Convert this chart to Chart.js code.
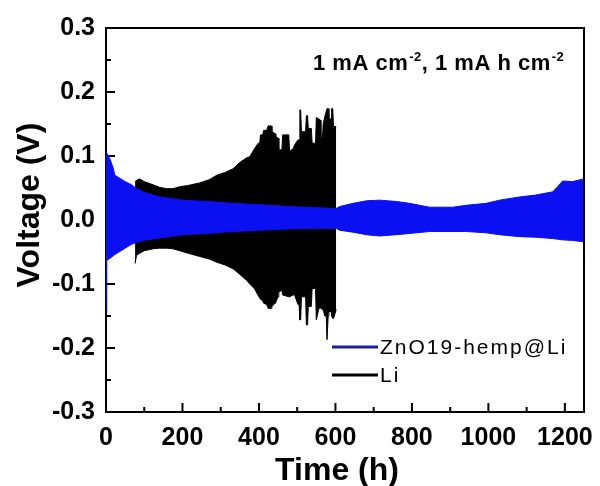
<!DOCTYPE html>
<html>
<head>
<meta charset="utf-8">
<script src="https://cdn.jsdelivr.net/npm/chart.js@4.4.1/dist/chart.umd.min.js"></script>
<style>
  html, body { margin: 0; padding: 0; background: #fff; }
  #wrap { width: 600px; height: 486px; }
</style>
</head>
<body>
<div id="wrap"><canvas id="voltChart" width="600" height="486"></canvas></div>
<script>
// === Valores (tempo em h, tensão em V) ===
const seriesNames = ['ZnO19-hemp@Li', 'Li'];

// ZnO19-hemp@Li : borda superior / inferior da faixa de ciclagem
const znTime  = [0, 2, 10, 19, 23, 37, 50, 67, 80, 106, 141, 200, 263, 332, 400, 480, 559, 602, 611, 646, 681, 715, 759, 794, 846, 907, 942, 994, 1029, 1081, 1124, 1168, 1181, 1194, 1220, 1248];
const znUpper = [0.105, 0.104, 0.096, 0.081, 0.07, 0.065, 0.06, 0.055, 0.049, 0.042, 0.036, 0.031, 0.029, 0.026, 0.024, 0.021, 0.019, 0.018, 0.021, 0.026, 0.030, 0.031, 0.029, 0.026, 0.020, 0.020, 0.023, 0.026, 0.031, 0.036, 0.039, 0.044, 0.052, 0.061, 0.060, 0.064];
const znLower = [-0.145, -0.063, -0.06, -0.056, -0.054, -0.049, -0.044, -0.038, -0.035, -0.031, -0.028, -0.023, -0.021, -0.018, -0.016, -0.014, -0.013, -0.013, -0.016, -0.019, -0.023, -0.025, -0.023, -0.021, -0.018, -0.018, -0.018, -0.020, -0.023, -0.026, -0.027, -0.029, -0.030, -0.031, -0.032, -0.034];

// Li puro : borda superior / inferior, termina perto de 600 h
const liTime  = [76, 80, 88, 100, 123, 140, 158, 175, 193, 215, 245, 270, 290, 310, 332, 350, 367, 376, 389, 398, 402, 404, 410, 412, 420, 424, 432, 434, 442, 444, 450, 452, 460, 462, 478, 480, 490, 493, 502, 505, 507, 509, 511, 522, 524, 527, 529, 537, 539, 548, 550, 556, 561, 562, 566, 568, 572, 576, 578, 581, 583, 589, 590, 593, 595, 602];
const liUpper = [0.06, 0.062, 0.064, 0.06, 0.055, 0.051, 0.049, 0.049, 0.052, 0.054, 0.058, 0.063, 0.07, 0.074, 0.08, 0.09, 0.097, 0.099, 0.112, 0.12, 0.12, 0.133, 0.133, 0.14, 0.14, 0.147, 0.147, 0.138, 0.135, 0.13, 0.128, 0.109, 0.11, 0.133, 0.133, 0.107, 0.112, 0.117, 0.125, 0.125, 0.172, 0.172, 0.138, 0.138, 0.163, 0.163, 0.143, 0.143, 0.12, 0.12, 0.16, 0.158, 0.156, 0.128, 0.128, 0.15, 0.161, 0.17, 0.174, 0.174, 0.158, 0.158, 0.174, 0.174, 0.146, 0.146];
const liLower = [-0.068, -0.055, -0.052, -0.048, -0.045, -0.044, -0.044, -0.045, -0.048, -0.052, -0.057, -0.061, -0.066, -0.07, -0.076, -0.085, -0.094, -0.1, -0.108, -0.118, -0.122, -0.124, -0.126, -0.13, -0.132, -0.138, -0.138, -0.135, -0.13, -0.128, -0.12, -0.112, -0.11, -0.117, -0.12, -0.12, -0.117, -0.117, -0.132, -0.132, -0.156, -0.156, -0.12, -0.12, -0.164, -0.164, -0.135, -0.135, -0.107, -0.107, -0.156, -0.14, -0.135, -0.138, -0.14, -0.14, -0.15, -0.15, -0.187, -0.15, -0.143, -0.143, -0.15, -0.154, -0.154, -0.14];

// === Eixos ===
const xTicks = [0, 200, 400, 600, 800, 1000, 1200];
const xMinorTicks = [100, 300, 500, 700, 900, 1100];
const yTicks = [-0.3, -0.2, -0.1, 0, 0.1, 0.2, 0.3];
const yMinorTicks = [-0.25, -0.15, -0.05, 0.05, 0.15, 0.25];
const xTitle = 'Time (h)';
const yTitle = 'Voltage (V)';
const noteParts = ['1 mA cm', '-2', ', 1 mA h cm', '-2'];

const BLUE = '#0a10f2';
const FONT = '"Liberation Sans", Arial, Helvetica, sans-serif';

const toPoints = (t, v) => t.map((x, i) => ({ x, y: v[i] }));

// === Moldura e ticks internos (por baixo das faixas) ===
const frame = {
  id: 'frame',
  beforeDatasetsDraw(chart) {
    const { ctx, chartArea: a, scales: { x, y } } = chart;
    ctx.save();
    ctx.strokeStyle = '#000';
    ctx.lineWidth = 2;
    ctx.beginPath();
    yTicks.forEach(v => { const p = y.getPixelForValue(v); ctx.moveTo(a.left, p); ctx.lineTo(a.left + 9, p); });
    yMinorTicks.forEach(v => { const p = y.getPixelForValue(v); ctx.moveTo(a.left, p); ctx.lineTo(a.left + 5, p); });
    xTicks.forEach(v => { const p = x.getPixelForValue(v); ctx.moveTo(p, a.bottom); ctx.lineTo(p, a.bottom - 9); });
    xMinorTicks.forEach(v => { const p = x.getPixelForValue(v); ctx.moveTo(p, a.bottom); ctx.lineTo(p, a.bottom - 5); });
    ctx.stroke();
    ctx.strokeRect(a.left, a.top, a.right - a.left, a.bottom - a.top);
    ctx.restore();
  }
};

// === Títulos, anotação e legenda ===
const decor = {
  id: 'decor',
  afterDraw(chart) {
    const { ctx, chartArea: a } = chart;
    ctx.save();
    ctx.fillStyle = '#000';

    ctx.font = `bold 32px ${FONT}`;
    ctx.textAlign = 'center';
    ctx.textBaseline = 'alphabetic';
    ctx.fillText(xTitle, (a.left + a.right) / 2 - 8, 480);
    ctx.translate(39, 205);
    ctx.rotate(-Math.PI / 2);
    ctx.fillText(yTitle, 0, 0);
    ctx.setTransform(1, 0, 0, 1, 0, 0);

    // anotação com expoentes
    ctx.textAlign = 'left';
    if ('letterSpacing' in ctx) ctx.letterSpacing = '0.5px';
    let nx = 313;
    noteParts.forEach((s, i) => {
      const sup = i % 2 === 1;
      ctx.font = sup ? `bold 13px ${FONT}` : `bold 22px ${FONT}`;
      ctx.fillText(s, nx, sup ? 61 : 70);
      nx += ctx.measureText(s).width + (sup ? 0 : 1);
    });

    // legenda
    const rows = [{ c: '#1c1ca8', y: 347 }, { c: '#000', y: 375 }];
    ctx.font = `21px ${FONT}`;
    ctx.textBaseline = 'middle';
    if ('letterSpacing' in ctx) ctx.letterSpacing = '2px';
    rows.forEach((r, i) => {
      ctx.strokeStyle = r.c;
      ctx.lineWidth = 3;
      ctx.beginPath();
      ctx.moveTo(332, r.y);
      ctx.lineTo(378, r.y);
      ctx.stroke();
      ctx.fillText(seriesNames[i], 380, r.y + 1);
    });
    ctx.restore();
  }
};

const band = (data, color, fill) => ({
  data,
  borderColor: color,
  backgroundColor: color,
  borderWidth: 1,
  pointRadius: 0,
  tension: 0,
  fill
});

new Chart(document.getElementById('voltChart'), {
  type: 'line',
  data: {
    datasets: [
      band(toPoints(znTime, znUpper), BLUE, '+1'),
      band(toPoints(znTime, znLower), BLUE, false),
      band(toPoints(liTime, liUpper), '#000', '+1'),
      band(toPoints(liTime, liLower), '#000', false)
    ]
  },
  options: {
    responsive: false,
    animation: false,
    events: [],
    layout: { padding: { top: 28, right: 16, left: 0, bottom: 0 } },
    scales: {
      x: {
        type: 'linear',
        min: 0,
        max: 1250,
        afterBuildTicks: s => { s.ticks = xTicks.map(value => ({ value })); },
        afterFit: s => { s.height = 74; },
        grid: { display: false },
        border: { display: false },
        ticks: {
          color: '#000',
          padding: 3,
          font: { family: FONT, size: 25, weight: 'bold' },
          callback: v => String(v)
        }
      },
      y: {
        min: -0.3,
        max: 0.3,
        afterBuildTicks: s => { s.ticks = yTicks.map(value => ({ value })); },
        afterFit: s => { s.width = 106; },
        grid: { display: false },
        border: { display: false },
        ticks: {
          color: '#000',
          padding: 3,
          font: { family: FONT, size: 25, weight: 'bold' },
          callback: v => v.toFixed(1)
        }
      }
    },
    plugins: {
      legend: { display: false },
      tooltip: { enabled: false }
    }
  },
  plugins: [frame, decor]
});
</script>
</body>
</html>
